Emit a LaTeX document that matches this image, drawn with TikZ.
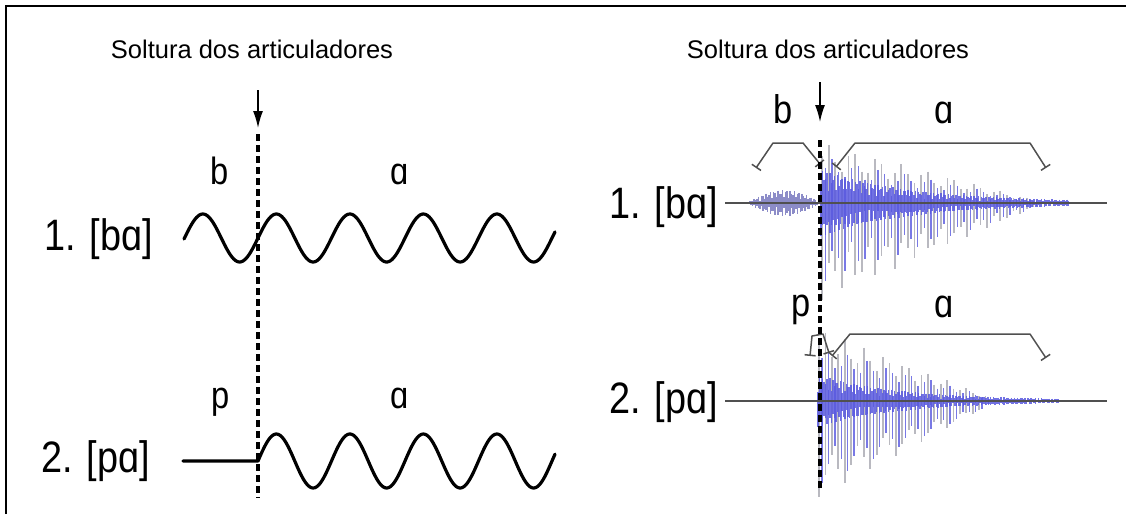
\documentclass[tikz,border=0pt]{standalone}
\usepackage{fontspec}
\setmainfont{Liberation Sans}
\newfontfamily\estreita{Liberation Sans}[FakeStretch=0.86]
\usetikzlibrary{arrows.meta, positioning}
\definecolor{ondaazul}{RGB}{88,88,222}
\definecolor{ondacinza}{RGB}{168,168,176}
\definecolor{ondasonora}{RGB}{120,120,190}
\definecolor{eixocinza}{RGB}{80,80,80}
\tikzset{
  >=Latex,  % setas com ponta cheia
  % Textos
  titulo/.style={font=\fontsize{25.5}{30}\selectfont,inner sep=0,anchor=base},
  rotulo/.style={font=\estreita\fontsize{44}{50}\selectfont,inner sep=0},
  fone/.style={font=\estreita\fontsize{38}{42}\selectfont,inner sep=0,anchor=base},
  fone grande/.style={fone,font=\estreita\fontsize{40}{44}\selectfont},
  % Linhas
  onda/.style={line width=3.2pt,line join=round,line cap=round},
  soltura/.style={line width=3.2pt,dash pattern=on 7pt off 4pt},
  seta/.style={-{Latex[length=17pt,width=10pt]},line width=1.5pt},
  chave/.style={{Bar[width=11pt]}-{Bar[width=11pt]},line width=1.5pt,draw=eixocinza,line join=round},
  eixo/.style={draw=eixocinza,line width=1.6pt},
  % Pulsos e nucleo do sinal
  pulso cinza/.style={ondacinza,line width=1.8pt,opacity=.8},
  pulso azul/.style={ondaazul,line width=1.4pt,opacity=.8},
  nucleo/.style={ondaazul,line width=1.3pt,opacity=.85},
  vozeamento/.style={ondasonora,line width=1.3pt,opacity=.85}
}

\begin{document}
\begin{tikzpicture}[x=1pt,y=-1pt]
  \useasboundingbox (0,0) rectangle (1126,514);
  \draw[line width=2.2pt] (6,514) -- (6,6) -- (1126,6);

  % esquema com ondas
  \node[titulo] (solt1) at (252,58) {Soltura dos articuladores};
  \coordinate (ini1) at (258,90);
  \coordinate (rel1) at (258,128);
  \coordinate (sol1a) at (258,134);
  \coordinate (sol1b) at (258,498);
  \draw[seta] (ini1) -- (rel1);
  \draw[soltura] (sol1a) -- (sol1b);
  \node[rotulo,anchor=west] (ba1) at (44,239) {1. [bɑ]};
  \node[rotulo,anchor=west] (pa1) at (41,461) {2. [pɑ]};
  \node[fone] (b1) at (220,184) {b};
  \node[fone] (a1) at (400,184) {ɑ};
  \node[fone] (p1) at (221,408) {p};
  \node[fone] (a2) at (400,408) {ɑ};
  \draw[onda] plot[domain=184:555,samples=240] (\x,{238-24*sin((\x-258)*4.898)});
  \draw[onda] (183,461) -- (258,461)
    -- plot[domain=258:555,samples=200] (\x,{461-27*sin((\x-258)*4.898)});

  % oscilogramas
  \node[titulo] (solt2) at (828,58) {Soltura dos articuladores};
  \coordinate (ini2) at (820,82);
  \coordinate (rel2) at (820,122);
  \coordinate (sol2a) at (820,140);
  \coordinate (sol2b) at (820,488);
  \draw[seta] (ini2) -- (rel2);
  \node[rotulo,anchor=east] (ba2) at (718,207) {1. [bɑ]};
  \node[rotulo,anchor=east] (pa2) at (718,402) {2. [pɑ]};
  \node[fone grande] (b2) at (783,123) {b};
  \node[fone grande] (a3) at (944,123) {ɑ};
  \node[fone grande] (p2) at (801,316) {p};
  \node[fone grande] (a4) at (944,317) {ɑ};

  \foreach \k in {0,...,32}{
    \pgfmathsetmacro\xx{822+6.6*\k}
    \pgfmathsetmacro\f{max(0,1-\k/34)}
    \pgfmathsetmacro\up{60*\f*(0.78+0.22*sin(\k*97))}
    \pgfmathsetmacro\dn{97*\f*(0.78+0.22*cos(\k*131))}
    \draw[pulso cinza] (\xx,203-\up) -- (\xx,203+\dn);
    \draw[pulso azul] (\xx+3.2,203-0.75*\up) -- (\xx+3.2,203+0.8*\dn);
  }
  \foreach \k in {0,...,26}{
    \pgfmathsetmacro\xx{819+6.4*\k}
    \pgfmathsetmacro\f{max(0,1-\k/28)}
    \pgfmathsetmacro\up{72*\f*(0.8+0.2*sin(\k*113))}
    \pgfmathsetmacro\dn{96*\f*(0.8+0.2*cos(\k*89))}
    \draw[pulso cinza] (\xx,401-\up) -- (\xx,401+\dn);
    \draw[pulso azul] (\xx+3.1,401-0.75*\up) -- (\xx+3.1,401+0.85*\dn);
  }
  \foreach \i in {0,...,47}{
    \pgfmathsetmacro\xx{748+1.5*\i}
    \pgfmathsetmacro\e{12*sin(\i*3.75)+1}
    \draw[vozeamento] (\xx,{203-\e*(0.3+0.7*abs(sin(\i*67)))}) -- (\xx,{203+\e*(0.3+0.7*abs(cos(\i*71)))});
  }
  \foreach \i in {0,...,165}{
    \pgfmathsetmacro\xx{821+1.5*\i}
    \pgfmathsetmacro\e{32*exp(-\i/60)+1.2}
    \draw[nucleo] (\xx,{203-\e*(0.35+0.65*abs(sin(\i*73)))}) -- (\xx,{203+\e*(0.35+0.65*abs(cos(\i*59)))});
  }
  \foreach \i in {0,...,160}{
    \pgfmathsetmacro\xx{818+1.5*\i}
    \pgfmathsetmacro\e{25*exp(-\i/55)+1}
    \draw[nucleo] (\xx,{401-\e*(0.35+0.65*abs(sin(\i*79)))}) -- (\xx,{401+\e*(0.35+0.65*abs(cos(\i*61)))});
  }
  \coordinate (eixo1a) at (725,203);
  \coordinate (eixo1b) at (1107,203);
  \coordinate (eixo2a) at (725,401);
  \coordinate (eixo2b) at (1107,401);
  \draw[eixo] (eixo1a) -- (eixo1b);
  \draw[eixo] (eixo2a) -- (eixo2b);

  \draw[chave] (756,168) -- (773,143) -- (803,143) -- (820,164);
  \draw[chave] (836,167) -- (855,143) -- (1030,143) -- (1046,168);
  \draw[chave] (810,356) -- (812,336) -- (823,334) -- (829,353);
  \draw[chave] (832,356) -- (850,334) -- (1030,334) -- (1046,358);
  \draw[soltura,line width=3.4pt] (sol2a) -- (sol2b);
\end{tikzpicture}
\end{document}
